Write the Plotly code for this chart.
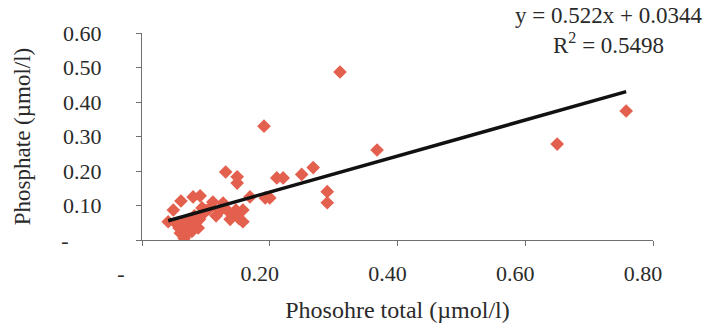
import plotly.graph_objects as go

# Data
x_vals = [0.758, 0.650, 0.310, 0.191, 0.368, 0.268, 0.131, 0.250, 0.211, 0.221,
          0.149, 0.149, 0.290, 0.290, 0.193, 0.200, 0.169, 0.158, 0.158,
          0.041, 0.049, 0.061, 0.080, 0.091, 0.111, 0.094, 0.127,
          0.133, 0.138, 0.142, 0.147, 0.152, 0.122, 0.116,
          0.055, 0.062, 0.068, 0.060, 0.072, 0.078, 0.084, 0.090, 0.095, 0.100,
          0.074, 0.066, 0.088, 0.058, 0.070, 0.105, 0.082, 0.064]
y_vals = [0.374, 0.278, 0.487, 0.330, 0.261, 0.210, 0.197, 0.190, 0.180, 0.180,
          0.183, 0.165, 0.140, 0.108, 0.122, 0.122, 0.125, 0.087, 0.053,
          0.053, 0.087, 0.113, 0.125, 0.128, 0.110, 0.093, 0.107,
          0.087, 0.060, 0.072, 0.087, 0.062, 0.085, 0.070,
          0.045, 0.030, 0.015, 0.020, 0.040, 0.025, 0.050, 0.060, 0.075, 0.085,
          0.060, 0.005, 0.035, 0.035, 0.030, 0.090, 0.070, 0.050]

fit_slope = 0.522
fit_intercept = 0.0344
r_squared = 0.5498

x_tickvals = [0, 0.2, 0.4, 0.6, 0.8]
x_ticktext = ["-\u00a0\u00a0\u00a0\u00a0", "0.20", "0.40", "0.60", "0.80"]
y_tickvals = [0, 0.1, 0.2, 0.3, 0.4, 0.5, 0.6]
y_ticktext = ["-\u00a0\u00a0\u00a0\u00a0\u00a0\u00a0", "0.10", "0.20", "0.30", "0.40", "0.50", "0.60"]

FONT = "Liberation Serif, Times New Roman, serif"
TXT = "#2a2a2a"
AX = "#707070"

line_x = [min(x_vals), max(x_vals)]
line_y = [fit_slope * v + fit_intercept for v in line_x]

fig = go.Figure()
fig.add_trace(go.Scatter(x=x_vals, y=y_vals, mode="markers",
                         marker=dict(symbol="diamond", size=10.5, color="#E4604E"),
                         showlegend=False, hoverinfo="skip"))
fig.add_trace(go.Scatter(x=line_x, y=line_y, mode="lines",
                         line=dict(color="#111111", width=3.5),
                         showlegend=False, hoverinfo="skip"))

fig.update_layout(
    width=708, height=333,
    margin=dict(l=142, r=55, t=33, b=93),
    paper_bgcolor="white", plot_bgcolor="white",
    font=dict(family=FONT, size=22, color=TXT),
    xaxis=dict(range=[0, 0.8], tickvals=x_tickvals, ticktext=x_ticktext,
               showgrid=False, zeroline=False, showline=True, linecolor=AX, linewidth=1.2,
               ticks="outside", ticklen=5, tickcolor=AX, tickwidth=1.2,
               ticklabelshift=-10, ticklabelstandoff=8,
               title=dict(text="Phosohre total (µmol/l)", font=dict(size=24), standoff=16)),
    yaxis=dict(range=[0, 0.6], tickvals=y_tickvals, ticktext=y_ticktext,
               showgrid=False, zeroline=False, showline=True, linecolor=AX, linewidth=1.2,
               ticks="outside", ticklen=5, tickcolor=AX, tickwidth=1.2,
               ticklabelstandoff=30,
               title=dict(text="Phosphate (µmol/l)", font=dict(size=23), standoff=24)),
    annotations=[
        dict(xref="paper", yref="paper", x=0.912, y=1.085, xanchor="center", yanchor="middle",
             text=f"y = {fit_slope}x + {fit_intercept}", showarrow=False, font=dict(size=23)),
        dict(xref="paper", yref="paper", x=0.912, y=0.95, xanchor="center", yanchor="middle",
             text=f"R<sup>2</sup> = {r_squared}", showarrow=False, font=dict(size=23)),
    ],
)

fig.write_html("out.html")
